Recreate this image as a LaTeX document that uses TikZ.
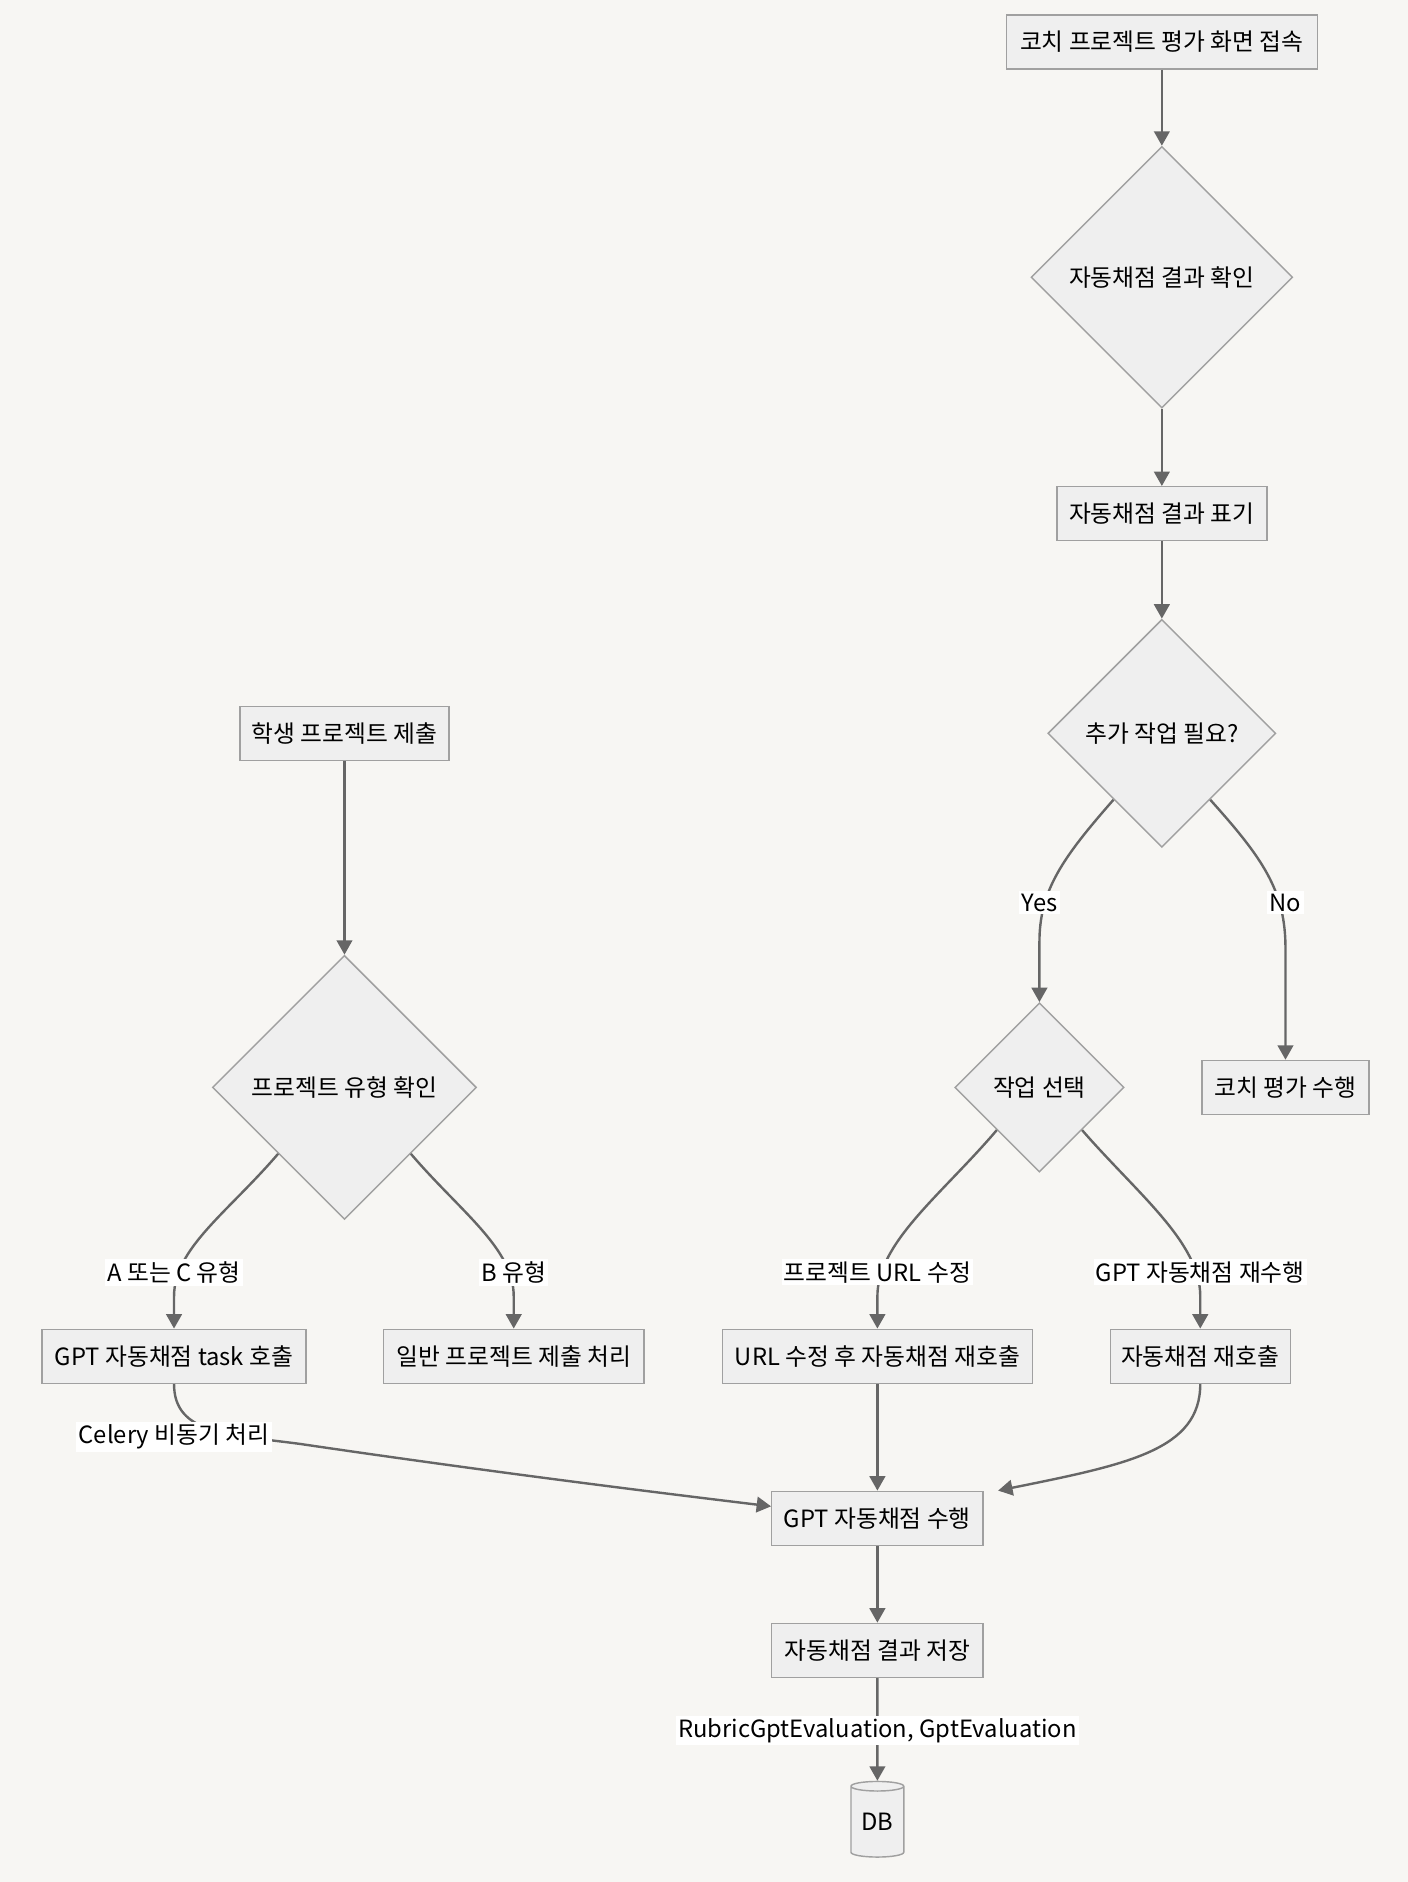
\documentclass[tikz,border=0pt]{standalone}
\usepackage{fontspec}
\setmainfont{Noto Sans CJK KR}
\usetikzlibrary{positioning,arrows.meta,shapes.geometric}
\definecolor{bgcol}{HTML}{F7F6F3}
\definecolor{nodefill}{HTML}{EFEFEF}
\definecolor{nodeline}{HTML}{A0A0A0}
\definecolor{linecol}{HTML}{666666}
\newcommand{\lblfont}{\fontsize{9.9}{12}\selectfont}

\begin{document}
\begin{tikzpicture}[x=0.5pt, y=-0.5pt,
    box/.style={draw=nodeline, fill=nodefill, line width=0.6pt, minimum height=22.5pt, inner xsep=2pt, font=\lblfont},
    decision/.style={diamond, aspect=1, draw=nodeline, fill=nodefill, line width=0.6pt, inner sep=0pt, font=\lblfont},
    store/.style={cylinder, shape border rotate=90, aspect=0.3, draw=nodeline, fill=nodefill, line width=0.6pt, minimum height=31.5pt, minimum width=22pt, inner sep=0pt, font=\lblfont},
    arrow/.style={-{Triangle[length=6pt,width=6.5pt]}, draw=linecol, line width=1pt},
    lbl/.style={fill=white, inner sep=1pt, font=\lblfont}
]
    \fill[bgcol] (0,0) rectangle (1173,1568);
    \useasboundingbox (0,0) rectangle (1173,1568);

    % coach side
    \node[box, minimum width=129.5pt] (access) at (968,35) {코치 프로젝트 평가 화면 접속};
    \node[decision, minimum size=109pt] (check) at (968,231) {자동채점 결과 확인};
    \node[box, minimum width=87.5pt] (mark) at (968,428) {자동채점 결과 표기};
    \node[decision, minimum size=95pt] (more) at (968,611) {추가 작업 필요?};
    \node[decision, minimum size=70.5pt] (select) at (866,906) {작업 선택};
    \node[box, minimum width=69.5pt] (coacheval) at (1071,906) {코치 평가 수행};
    \node[box, minimum width=129pt] (urlfix) at (731,1130) {URL 수정 후 자동채점 재호출};
    \node[box, minimum width=75pt] (recall) at (1000,1130) {자동채점 재호출};

    % student side
    \node[box, minimum width=87pt] (submit) at (287,611) {학생 프로젝트 제출};
    \node[decision, minimum size=110pt] (type) at (287,906) {프로젝트 유형 확인};
    \node[box, minimum width=110pt] (gptcall) at (145,1130) {GPT 자동채점 task 호출};
    \node[box, minimum width=108.5pt] (normal) at (428,1130) {일반 프로젝트 제출 처리};

    % grading
    \node[box, minimum width=88pt] (gpt) at (731,1265) {GPT 자동채점 수행};
    \node[box, minimum width=88pt] (save) at (731,1375) {자동채점 결과 저장};
    \node[store] (db) at (731,1518) {DB};

    \draw[arrow] (access) -- (check);
    \draw[arrow] (check) -- (mark);
    \draw[arrow] (mark) -- (more);
    \draw[arrow] ([shift={(3.75pt,-3.75pt)}]more.south west) .. controls (885,715) and (866,742) .. (866,785) -- (select.north);
    \draw[arrow] ([shift={(-3.75pt,-3.75pt)}]more.south east) .. controls (1052,715) and (1071,742) .. (1071,790) -- (coacheval.north);
    \draw[arrow] (select.south west) .. controls (785,995) and (731,1035) .. (731,1080) -- (urlfix.north);
    \draw[arrow] (select.south east) .. controls (948,995) and (1000,1035) .. (1000,1080) -- (recall.north);
    \draw[arrow] (submit) -- (type);
    \draw[arrow] (type.south west) .. controls (190,1010) and (145,1040) .. (145,1080) -- (gptcall.north);
    \draw[arrow] (type.south east) .. controls (384,1010) and (428,1040) .. (428,1080) -- (normal.north);
    \draw[arrow] (gptcall.south) .. controls (145,1195) and (190,1195) .. (250,1203) .. controls (420,1228) and (560,1245) .. ([yshift=5pt]gpt.west);
    \draw[arrow] (urlfix) -- (gpt);
    \draw[arrow] (recall.south) .. controls (1000,1208) and (940,1220) .. ([xshift=6pt]gpt.north east);
    \draw[arrow] (gpt) -- (save);
    \draw[arrow] (save) -- (db);

    % edge labels
    \node[lbl] (yes) at (866,752) {Yes};
    \node[lbl] (no) at (1071,752) {No};
    \node[lbl] (actype) at (145,1060) {A 또는 C 유형};
    \node[lbl] (btype) at (428,1060) {B 유형};
    \node[lbl] (urledit) at (731,1060) {프로젝트 URL 수정};
    \node[lbl] (rerun) at (1000,1060) {GPT 자동채점 재수행};
    \node[lbl] (celery) at (145,1197) {Celery 비동기 처리};
    \node[lbl] (models) at (731,1442) {RubricGptEvaluation, GptEvaluation};
\end{tikzpicture}
\end{document}
